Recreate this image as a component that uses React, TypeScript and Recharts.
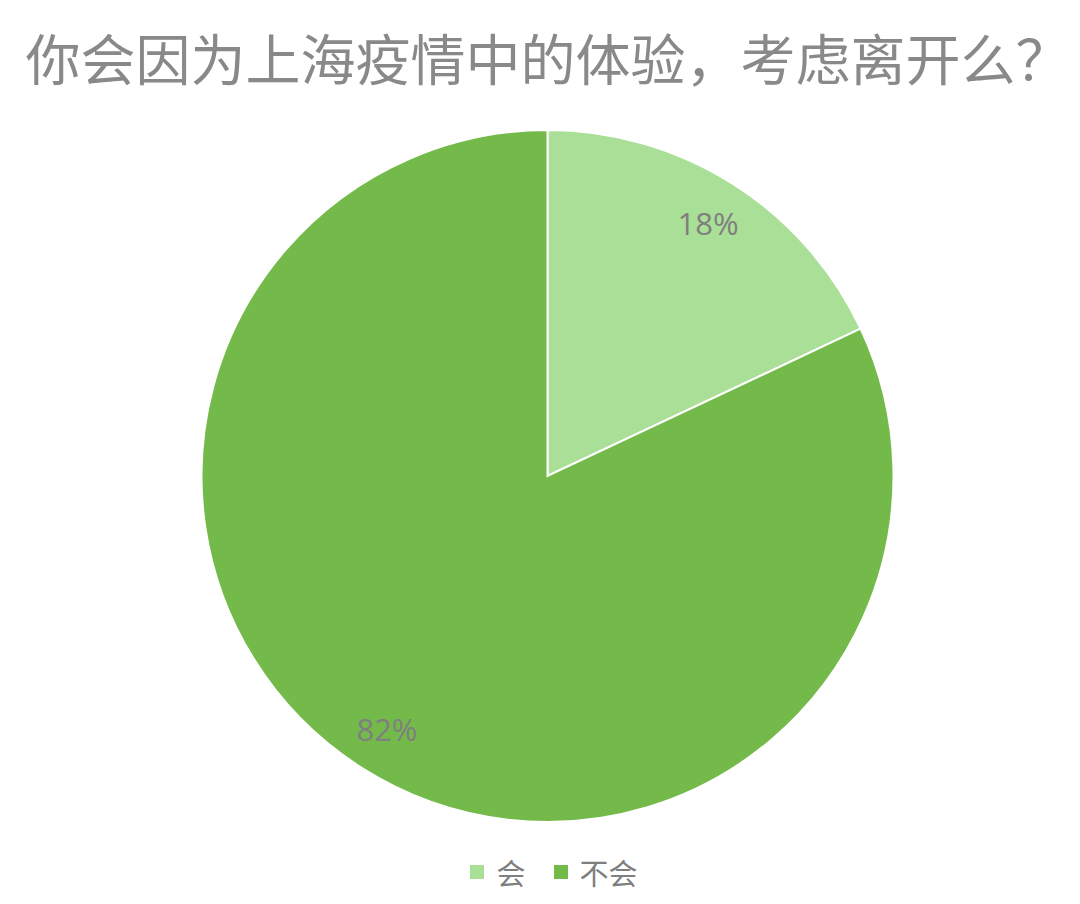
import React from "react";
import { PieChart, Pie, Cell, Legend } from "recharts";

const categories = ["会", "不会"];
const values = [18, 82];
const colors = ["#A9DF96", "#74BA4A"];
const title = "你会因为上海疫情中的体验，考虑离开么？";

const data = categories.map((name, i) => ({ name, value: values[i] }));

const RAD = Math.PI / 180;

const renderLabel = (props: any) => {
  const { cx, cy, midAngle, outerRadius, percent } = props;
  const r = outerRadius * 0.866;
  const x = cx + r * Math.cos(-midAngle * RAD);
  const y = cy + r * Math.sin(-midAngle * RAD);
  return (
    <text
      x={x}
      y={y}
      fill="#7F7F7F"
      fontSize={31}
      fontFamily="'Open Sans', 'Noto Sans', sans-serif"
      textAnchor="middle"
      dominantBaseline="central"
    >
      {`${Math.round(percent * 100)}%`}
    </text>
  );
};

const renderLegend = () => (
  <div
    style={{
      display: "flex",
      justifyContent: "center",
      alignItems: "center",
      paddingLeft: 28,
      fontFamily: "'Noto Sans CJK SC', sans-serif",
      fontSize: 29,
      lineHeight: "40px",
      color: "#7F7F7F",
    }}
  >
    {data.map((d, i) => (
      <div
        key={d.name}
        style={{ display: "flex", alignItems: "center", marginLeft: i === 0 ? 0 : 28 }}
      >
        <span
          style={{
            display: "inline-block",
            width: 14,
            height: 14,
            background: colors[i],
            marginRight: 12,
          }}
        />
        <span>{d.name}</span>
      </div>
    ))}
  </div>
);

export default function App() {
  return (
    <div
      style={{
        position: "absolute",
        left: 0,
        top: 0,
        width: 1080,
        height: 904,
        background: "#ffffff",
      }}
    >
      <div
        style={{
          position: "absolute",
          left: 8,
          top: 55.5,
          width: 1080,
          transform: "translateY(-50%)",
          textAlign: "center",
          fontFamily: "'Noto Sans CJK SC', sans-serif",
          fontSize: 55,
          color: "#898989",
          lineHeight: 1.2,
          whiteSpace: "nowrap",
        }}
      >
        {title}
      </div>
      <PieChart
        width={1080}
        height={904}
        margin={{ top: 0, right: 0, bottom: 0, left: 0 }}
        style={{ position: "absolute", left: 0, top: 0 }}
      >
        <Pie
          data={data}
          dataKey="value"
          nameKey="name"
          cx={547.5}
          cy={476}
          outerRadius={346}
          startAngle={90}
          endAngle={-270}
          stroke="#ffffff"
          strokeWidth={2}
          label={renderLabel}
          labelLine={false}
          isAnimationActive={false}
        >
          {data.map((d, i) => (
            <Cell key={d.name} fill={colors[i]} />
          ))}
        </Pie>
        <Legend
          content={renderLegend}
          wrapperStyle={{ position: "absolute", left: 0, top: 852, width: 1080 }}
        />
      </PieChart>
    </div>
  );
}
